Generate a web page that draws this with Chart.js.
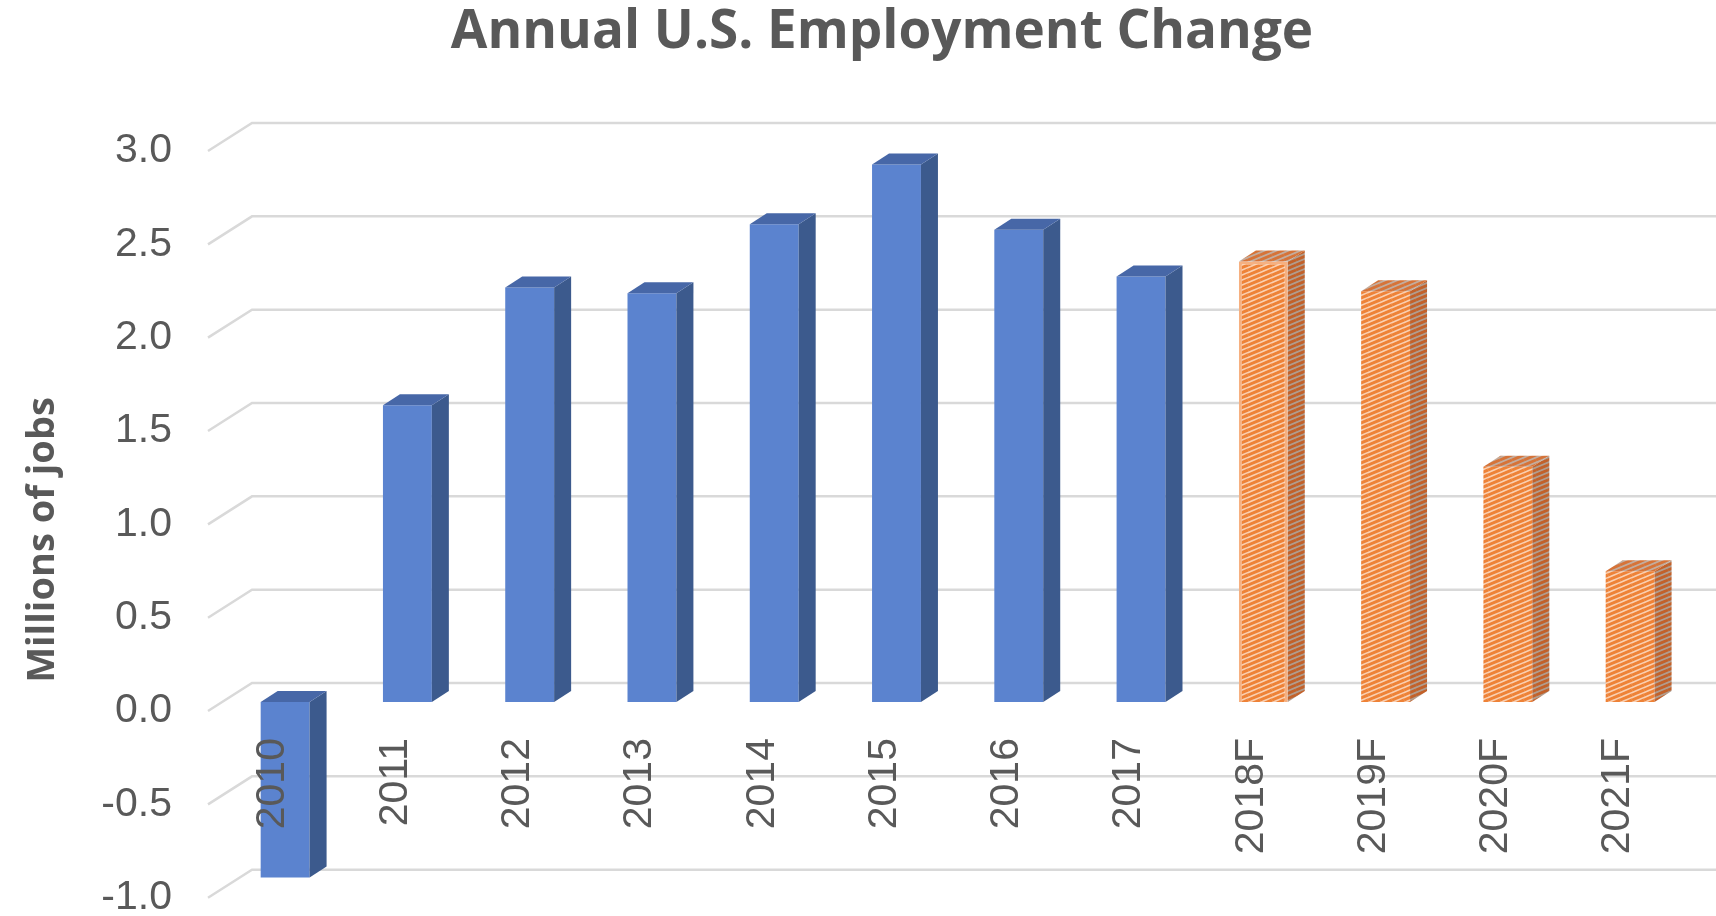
<!DOCTYPE html>
<html><head><meta charset="utf-8">
<script src="https://cdn.jsdelivr.net/npm/chart.js@4.4.1/dist/chart.umd.min.js"></script>
<style>html,body{margin:0;padding:0;background:#fff;overflow:hidden}#wrap{width:1716px;height:916px}</style>
</head><body><div id="wrap"><canvas id="c" width="1716" height="916"></canvas></div>
<script>
// ---- data ----
const categories = ['2010','2011','2012','2013','2014','2015','2016','2017','2018F','2019F','2020F','2021F'];
const actualJobs = [-0.94, 1.59, 2.22, 2.19, 2.56, 2.88, 2.53, 2.28, null, null, null, null];
const forecastJobs = [null, null, null, null, null, null, null, null, 2.36, 2.20, 1.26, 0.70];
const yTickValues = [-1.0, -0.5, 0.0, 0.5, 1.0, 1.5, 2.0, 2.5, 3.0];
const titleText = 'Annual U.S. Employment Change';
const yAxisTitle = 'Millions of jobs';

// ---- styles ----
const TEXT = '#595959';
const GRID = '#d9d9d9';
const DEPTH = {dx: 17, dy: 11};          // bar depth
const WALL = {dx: 44, dy: 28, front: 9};  // grid wall offsets
function makePattern(bg, fg, lw) {
  const w = 12, h = 5;
  const t = document.createElement('canvas');
  t.width = w; t.height = h;
  const g = t.getContext('2d');
  g.fillStyle = bg; g.fillRect(0, 0, w, h);
  g.strokeStyle = fg; g.lineWidth = lw;
  for (const [ox, oy] of [[0,0],[-w,0],[w,0],[0,-h],[0,h],[-w,h],[w,-h]]) {
    g.beginPath(); g.moveTo(ox, oy + h); g.lineTo(ox + w, oy); g.stroke();
  }
  return g.createPattern(t, 'repeat');
}
const orangeFront = makePattern('#fad0b2', '#ee8237', 3.0);
const orangeSide = makePattern('#b09d8f', '#c2612a', 2.9);
const orangeTop = makePattern('#c2ad9f', '#d67338', 2.9);

const faces = {
  0: {side: '#3c5a8d', top: '#4767a7'},
  1: {side: orangeSide, top: orangeTop}
};

const threeD = {
  id: 'threeD',
  beforeDatasetsDraw(chart) {
    const ctx = chart.ctx, y = chart.scales.y;
    const xStart = chart.chartArea.left + 28;
    ctx.save();
    ctx.strokeStyle = GRID; ctx.lineWidth = 2.5;
    y.ticks.forEach(t => {
      const py = y.getPixelForValue(t.value);
      ctx.beginPath();
      ctx.moveTo(xStart - WALL.dx, py + WALL.front);
      ctx.lineTo(xStart, py + WALL.front - WALL.dy);
      ctx.lineTo(chart.width, py + WALL.front - WALL.dy);
      ctx.stroke();
    });
    ctx.restore();
  },
  afterDatasetsDraw(chart) {
    const ctx = chart.ctx;
    chart.data.datasets.forEach((ds, di) => {
      const meta = chart.getDatasetMeta(di);
      meta.data.forEach((el, i) => {
        if (ds.data[i] === null || ds.data[i] === undefined) return;
        const p = el.getProps(['x', 'y', 'base', 'width'], true);
        const L = p.x - p.width / 2, R = p.x + p.width / 2;
        const T = Math.min(p.y, p.base), B = Math.max(p.y, p.base);
        ctx.save();
        ctx.fillStyle = faces[di].side;
        ctx.beginPath();
        ctx.moveTo(R, T); ctx.lineTo(R + DEPTH.dx, T - DEPTH.dy);
        ctx.lineTo(R + DEPTH.dx, B - DEPTH.dy); ctx.lineTo(R, B); ctx.closePath(); ctx.fill();
        ctx.fillStyle = faces[di].top;
        ctx.beginPath();
        ctx.moveTo(L, T); ctx.lineTo(L + DEPTH.dx, T - DEPTH.dy);
        ctx.lineTo(R + DEPTH.dx, T - DEPTH.dy); ctx.lineTo(R, T); ctx.closePath(); ctx.fill();
        ctx.restore();
      });
    });
  },
  afterDraw(chart) {
    const ctx = chart.ctx;
    ctx.save();
    ctx.fillStyle = TEXT;
    ctx.font = "bold 53px 'Open Sans', 'DejaVu Sans', sans-serif";
    ctx.textAlign = 'center'; ctx.textBaseline = 'alphabetic';
    ctx.fillText(titleText, 882, 48);
    ctx.translate(54, 540); ctx.rotate(-Math.PI / 2);
    ctx.font = "bold 38px 'Open Sans', 'DejaVu Sans', sans-serif";
    ctx.fillText(yAxisTitle, 0, 0);
    ctx.restore();
  }
};

Chart.defaults.font.family = "'Liberation Sans', Arial, sans-serif";
Chart.defaults.color = TEXT;

new Chart(document.getElementById('c'), {
  type: 'bar',
  data: {
    labels: categories,
    datasets: [
      {label: 'Actual', data: actualJobs, backgroundColor: '#5b83cf', grouped: false,
       barPercentage: 0.4, categoryPercentage: 1.0, borderWidth: 0},
      {label: 'Forecast', data: forecastJobs, backgroundColor: orangeFront, grouped: false,
       barPercentage: 0.4, categoryPercentage: 1.0,
       borderColor: '#f6b080', borderWidth: [0,0,0,0,0,0,0,0,3,0,0,0]}
    ]
  },
  options: {
    responsive: false, animation: false, devicePixelRatio: 1,
    layout: {padding: {top: 142, bottom: 27.3, left: 0, right: 16}},
    plugins: {legend: {display: false}, title: {display: false}, tooltip: {enabled: false}},
    scales: {
      x: {
        position: {y: 0},
        afterFit: s => { s.height = 0; },
        grid: {display: false, drawTicks: false}, border: {display: false},
        ticks: {z: 1, font: {size: 41}, color: TEXT, minRotation: 90, maxRotation: 90, padding: 36, labelOffset: -12, autoSkip: false}
      },
      y: {
        min: -1, max: 3,
        afterBuildTicks: s => { s.ticks = yTickValues.map(v => ({value: v})); },
        afterFit: s => { s.width = 224; s.paddingTop = 20; s.paddingBottom = 20; },
        grid: {display: false, drawTicks: false}, border: {display: false},
        ticks: {font: {size: 41}, color: TEXT, padding: 52, labelOffset: 9,
                callback: v => Number(v).toFixed(1)}
      }
    }
  },
  plugins: [threeD]
});
</script>
</body></html>
